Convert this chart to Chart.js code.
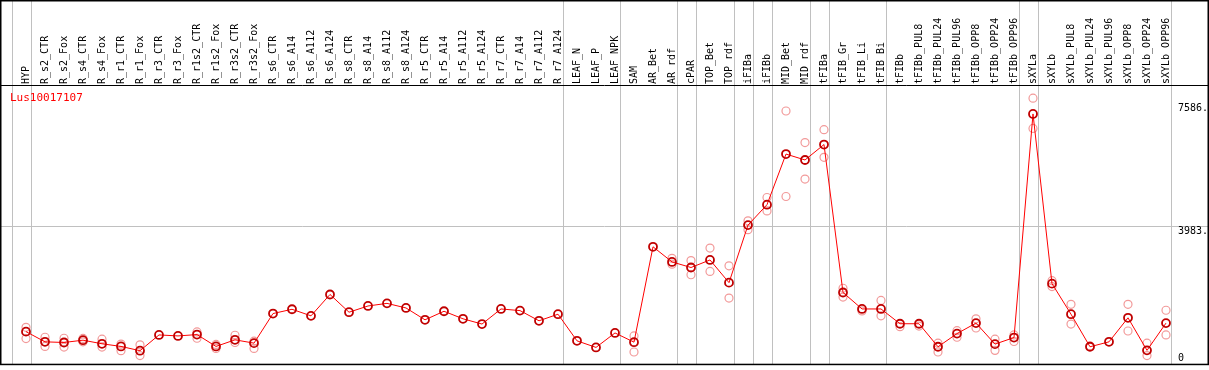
<!DOCTYPE html>
<html>
<head>
<meta charset="utf-8">
<script src="https://cdn.jsdelivr.net/npm/chart.js@4.4.1/dist/chart.umd.min.js"></script>
<style>
  html, body { margin: 0; padding: 0; background: #fff; }
  #wrap { width: 1209px; height: 370px; position: relative; }
</style>
</head>
<body>
<div id="wrap"><canvas id="chart"></canvas></div>
<script>
const geneName = 'Lus10017107';

const samples = [
  'HYP', 'R_s2_CTR', 'R_s2_Fox', 'R_s4_CTR', 'R_s4_Fox', 'R_r1_CTR', 'R_r1_Fox', 'R_r3_CTR', 'R_r3_Fox',
  'R_r1s2_CTR', 'R_r1s2_Fox', 'R_r3s2_CTR', 'R_r3s2_Fox', 'R_s6_CTR', 'R_s6_A14', 'R_s6_A112', 'R_s6_A124',
  'R_s8_CTR', 'R_s8_A14', 'R_s8_A112', 'R_s8_A124', 'R_r5_CTR', 'R_r5_A14', 'R_r5_A112', 'R_r5_A124',
  'R_r7_CTR', 'R_r7_A14', 'R_r7_A112', 'R_r7_A124', 'LEAF_N', 'LEAF_P', 'LEAF_NPK', 'SAM', 'AR_Bet', 'AR_rdf',
  'cPAR', 'TOP_Bet', 'TOP_rdf', 'iFIBa', 'iFIBb', 'MID_Bet', 'MID_rdf', 'tFIBa', 'tFIB_Gr', 'tFIB_Li', 'tFIB_Bi',
  'tFIBb', 'tFIBb_PUL8', 'tFIBb_PUL24', 'tFIBb_PUL96', 'tFIBb_OPP8', 'tFIBb_OPP24', 'tFIBb_OPP96',
  'sXYLa', 'sXYLb', 'sXYLb_PUL8', 'sXYLb_PUL24', 'sXYLb_PUL96', 'sXYLb_OPP8', 'sXYLb_OPP24', 'sXYLb_OPP96'
];

// mean expression per sample
const meanValues = [
  897, 600, 581, 648, 543, 466, 341, 801, 772,
  811, 466, 658, 562, 1424, 1549, 1357, 1980,
  1463, 1645, 1721, 1587, 1242, 1491, 1271, 1118,
  1558, 1510, 1213, 1405, 629, 437, 859, 590, 3370, 2929,
  2766, 2986, 2325, 4002, 4597, 6072, 5900, 6350, 2038, 1558, 1558,
  1127, 1127, 456, 840, 1146, 533, 725,
  7242, 2296, 1405, 456, 600, 1300, 351, 1146
];

// replicates (upper / lower), null where hidden behind the mean
const repHigh = [
  1022, 734, 705, 700, 677, 533, 514, null, null,
  888, 523, 792, 620, null, null, null, null,
  null, null, null, null, null, null, null, null,
  null, null, null, null, null, null, null, 772, null, 3034,
  2967, 3332, 2814, 4127, 4807, 7328, 6408, 6782, 2162, 1500, 1808,
  1041, 1060, 562, 926, 1271, 677, 801,
  7702, 2383, 1693, 480, null, 1693, 562, 1520
];
const repLow = [
  696, 466, 447, 600, 447, 341, 198, null, null,
  705, 408, 581, 408, null, null, null, null,
  null, null, null, null, null, null, null, null,
  null, null, null, null, null, null, null, 303, null, 2862,
  2555, 2651, 1875, 3868, 4414, 4836, 5344, 5977, 1903, null, 1357,
  null, null, 303, 734, 1003, 351, 610,
  6820, 2210, 1118, null, null, 916, 198, 801
];

const yTicks = [0, 3983, 7586];
const yTickLabels = ['0', '3983.', '7586.'];

// last sample of each group (gray separators)
const groupEnds = ['HYP', 'R_r7_A124', 'LEAF_NPK', 'AR_rdf', 'cPAR', 'TOP_rdf', 'iFIBa', 'iFIBb',
  'MID_rdf', 'tFIBa', 'tFIB_Bi', 'tFIBb_OPP96', 'sXYLa', 'sXYLb_OPP96'];

const repPoints = [];
samples.forEach((s, i) => {
  if (repHigh[i] != null) repPoints.push({ x: s, y: repHigh[i] });
  if (repLow[i] != null) repPoints.push({ x: s, y: repLow[i] });
});

const mono = 'DejaVu Sans Mono';

const framePlugin = {
  id: 'frame',
  beforeDatasetsDraw(chart) {
    const { ctx, scales: { x, y }, width } = chart;
    const bottom = chart.chartArea.bottom;
    const step = x.getPixelForValue(1) - x.getPixelForValue(0);
    ctx.save();
    ctx.strokeStyle = '#c0c0c0';
    ctx.lineWidth = 1;
    // horizontal grid at middle tick
    const gy = Math.round(y.getPixelForValue(yTicks[1])) + 0.5;
    ctx.beginPath();
    ctx.moveTo(0, gy);
    ctx.lineTo(width, gy);
    ctx.stroke();
    // group separators
    const seps = [-1].concat(groupEnds.map(g => samples.indexOf(g)));
    seps.forEach(i => {
      const px = Math.round(x.getPixelForValue(0) + i * step + step * 0.24) + 0.5;
      ctx.beginPath();
      ctx.moveTo(px, 0);
      ctx.lineTo(px, bottom);
      ctx.stroke();
    });
    // black frame
    ctx.strokeStyle = '#000';
    ctx.lineWidth = 1.5;
    ctx.strokeRect(0.75, 0.75, width - 1.5, bottom - 0.5);
    ctx.lineWidth = 1;
    ctx.beginPath();
    ctx.moveTo(0, 85.5);
    ctx.lineTo(width, 85.5);
    ctx.stroke();
    // gene name
    ctx.fillStyle = '#ff0000';
    ctx.font = '11px "' + mono + '"';
    ctx.textBaseline = 'alphabetic';
    ctx.fillText(geneName, 10, 101);
    // value labels on the right
    ctx.fillStyle = '#000';
    ctx.font = '10px "' + mono + '"';
    yTicks.forEach((v, k) => {
      const py = Math.min(y.getPixelForValue(v) + 8.5, bottom - 3);
      ctx.fillText(yTickLabels[k], chart.chartArea.right + 2.5, py);
    });
    ctx.restore();
  }
};

new Chart(document.getElementById('chart'), {
  type: 'line',
  data: {
    labels: samples,
    datasets: [
      {
        data: meanValues,
        borderColor: '#ff0000',
        borderWidth: 1,
        pointRadius: 4,
        pointBorderWidth: 1.8,
        pointBorderColor: '#c00000',
        pointBackgroundColor: 'rgba(0,0,0,0)',
        tension: 0
      },
      {
        data: repPoints,
        showLine: false,
        pointRadius: 4,
        pointBorderWidth: 1.2,
        pointBorderColor: '#f29a9a',
        pointBackgroundColor: 'rgba(0,0,0,0)'
      }
    ]
  },
  options: {
    responsive: true,
    maintainAspectRatio: false,
    animation: false,
    layout: { padding: { left: 16.5, right: 33.5, top: 0, bottom: 2 } },
    plugins: { legend: { display: false }, tooltip: { enabled: false } },
    scales: {
      x: {
        type: 'category',
        position: 'top',
        offset: true,
        grid: { display: false, drawTicks: false },
        border: { display: false },
        ticks: {
          autoSkip: false,
          minRotation: 90,
          maxRotation: 90,
          padding: 2,
          labelOffset: 12,
          color: '#000',
          font: { family: mono, size: 10 }
        },
        afterFit: scale => { scale.height = 86; }
      },
      y: {
        display: false,
        min: -52,
        max: 8056
      }
    }
  },
  plugins: [framePlugin]
});
</script>
</body>
</html>
